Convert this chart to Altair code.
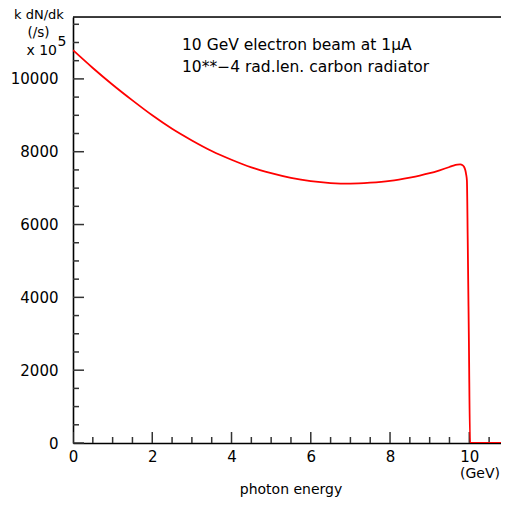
import altair as alt
import pandas as pd

# ---- data ----
energy = [0.0, 0.5, 1.0, 1.5, 2.0, 2.5, 3.0, 3.5, 4.0, 4.5, 5.0, 5.5, 6.0, 6.5,
          7.0, 7.5, 8.0, 8.5, 8.75, 9.0, 9.25, 9.5, 9.6, 9.7, 9.77, 9.83,
          9.87, 9.9, 9.92, 9.94, 9.96, 9.99, 10.02, 11.0]
kdndk = [10790, 10300, 9840, 9410, 9000, 8630, 8310, 8020, 7780, 7570, 7410,
         7280, 7190, 7140, 7125, 7150, 7200, 7290, 7345, 7410, 7490, 7580,
         7620, 7645, 7650, 7630, 7580, 7490, 7380, 7200, 5600, 2800, 0, 0]

x_major = [0, 2, 4, 6, 8, 10]
x_minor = [v / 2 for v in range(1, 22) if v % 4 != 0]
y_major = [0, 2000, 4000, 6000, 8000, 10000]
y_minor = [v * 500 for v in range(1, 24) if (v * 500) % 2000 != 0]
x_range = [0, 10.8]
y_range = [0, 11700]

title_lines = ["10 GeV electron beam at 1\u03bcA",
               "10**\u22124 rad.len. carbon radiator"]

W, H = 428, 426
FONT = "DejaVu Sans"

df = pd.DataFrame({"energy": energy, "kdndk": kdndk})
xs = alt.Scale(domain=x_range, nice=False, zero=False)
ys = alt.Scale(domain=y_range, nice=False, zero=False)

x_axis = alt.Axis(values=x_major, title=None, ticks=False, tickSize=0,
                  labelPadding=6, domainColor="black", domainWidth=1.6,
                  labelFontSize=15, labelColor="black", grid=False,
                  labelFont=FONT, labelFlush=False, format="d")
y_axis = alt.Axis(values=y_major, title=None, ticks=False, tickSize=0,
                  labelPadding=15, domainColor="black", domainWidth=1.6,
                  labelFontSize=15, labelColor="black", grid=False,
                  labelFont=FONT, format="d")

line = alt.Chart(df).mark_line(color="#ff0000", strokeWidth=1.8, clip=True,
                               interpolate="monotone").encode(
    x=alt.X("energy:Q", scale=xs, axis=x_axis),
    y=alt.Y("kdndk:Q", scale=ys, axis=y_axis),
)

def yticks(vals, length):
    return alt.Chart(pd.DataFrame({"v": vals})).mark_rule(
        color="#333333", strokeWidth=1.5).encode(
        y=alt.Y("v:Q", scale=ys, axis=y_axis),
        x=alt.value(0), x2=alt.value(length))

def xticks(vals, length):
    return alt.Chart(pd.DataFrame({"v": vals})).mark_rule(
        color="#333333", strokeWidth=1.5, clip=True).encode(
        x=alt.X("v:Q", scale=xs, axis=x_axis),
        y=alt.value(H), y2=alt.value(H - length))

top_frame = alt.Chart(pd.DataFrame({"a": [x_range[0]], "b": [x_range[1]],
                                    "c": [y_range[1]]})).mark_rule(
    color="black", strokeWidth=1.6).encode(
    x=alt.X("a:Q", scale=xs, axis=x_axis), x2="b:Q",
    y=alt.Y("c:Q", scale=ys, axis=y_axis))

def txt(s, x, y, align="center", size=14):
    return alt.Chart(pd.DataFrame({"t": [s]})).mark_text(
        font=FONT, fontSize=size, color="black", align=align,
        baseline="middle").encode(text="t:N", x=alt.value(x), y=alt.value(y))

layers = [
    yticks(y_major, 11), yticks(y_minor, 6),
    xticks(x_major, 11), xticks(x_minor, 6),
    top_frame, line,
    txt(title_lines[0], 109, 28, align="left", size=15.5),
    txt(title_lines[1], 109, 50, align="left", size=15.5),
    txt("k dN/dk", -34, -2, size=13),
    txt("(/s)", -34.5, 16, size=13.5),
    txt("x 10", -16, 34, align="right", size=14),
    txt("5", -11, 25, size=14),
    txt("(GeV)", W - 1, 457, align="right", size=14),
    txt("photon energy", 218, 473, size=14),
]

chart = alt.layer(*layers).properties(
    width=W, height=H,
    autosize=alt.AutoSizeParams(type="none"),
    padding={"left": 65, "top": 9, "right": 0, "bottom": 55},
).configure_view(stroke=None).configure(background="white")

chart.save("out.html", embed_options={"renderer": "svg", "actions": False})
